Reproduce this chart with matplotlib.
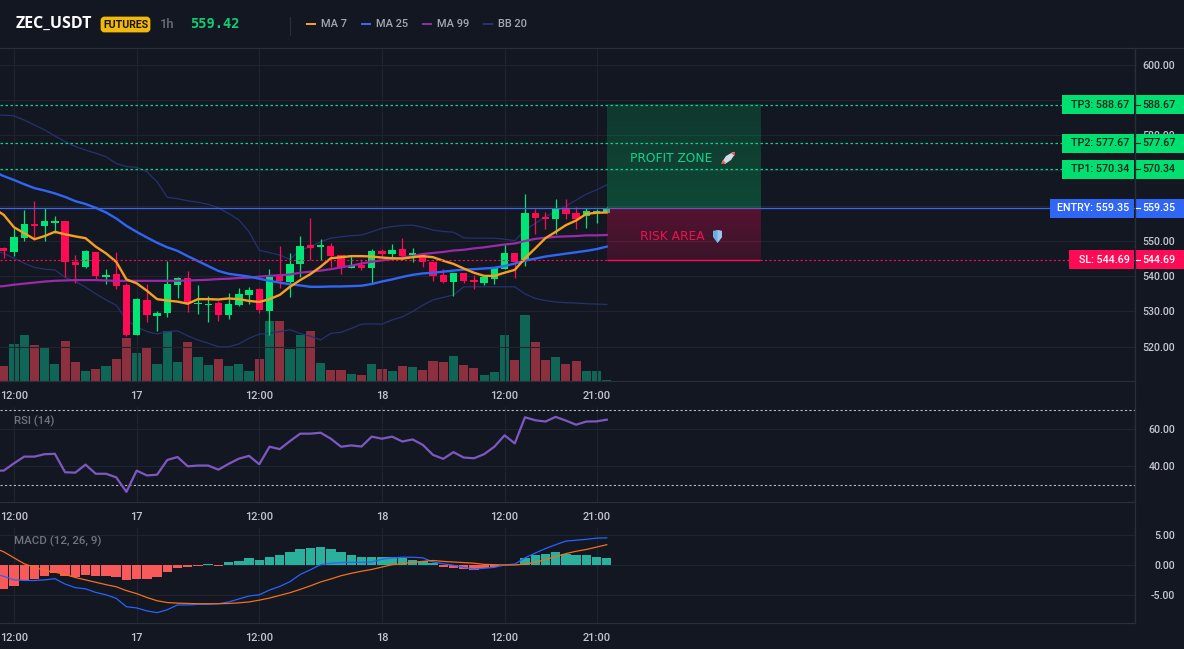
import numpy as np
import matplotlib
matplotlib.use("Agg")
import matplotlib.pyplot as plt
from matplotlib.patches import Rectangle, Polygon, FancyBboxPatch
from matplotlib.transforms import blended_transform_factory

# Hourly candles; hour 0 is 12:00 on the 16th.
hours = np.arange(-2, 59)
candle_open = [549.0,547.9,546.9,550.8,554.5,554.3,555.2,555.7,544.0,542.6,546.9,539.7,540.6,537.5,523.4,533.3,528.7,529.6,537.5,539.4,532.1,531.7,532.4,529.0,531.8,534.7,536.4,530.1,540.2,538.4,543.5,548.8,548.3,548.6,546.0,542.4,543.3,542.4,547.2,546.3,547.7,546.1,546.2,544.0,540.3,538.5,540.9,538.9,538.1,539.3,542.1,546.5,544.6,557.9,556.8,556.2,559.0,557.9,557.2,558.1,558.0]
candle_close = [548.2,547.3,551.2,554.8,554.3,555.7,555.8,543.9,543.2,547.2,540.1,540.4,537.2,523.3,533.5,529.0,529.6,537.8,539.4,532.5,532.5,532.1,529.0,532.1,535.0,536.1,530.5,539.9,538.7,543.5,548.6,547.9,548.9,545.7,542.2,542.9,542.3,547.2,546.3,547.4,545.6,546.6,544.0,540.2,538.4,540.9,538.7,538.5,539.9,542.3,546.6,543.9,557.9,556.5,556.1,559.1,557.7,556.2,558.4,558.4,559.4]
candle_high = [550.0,548.2,553.6,558.8,561.3,559.3,557.1,555.7,546.0,547.4,546.9,542.1,546.8,538.0,533.7,537.7,530.1,544.4,539.8,541.5,537.5,534.4,533.0,535.2,536.8,537.0,536.8,542.1,548.6,546.5,551.4,556.4,550.5,549.3,546.0,545.7,544.8,547.6,547.8,549.1,550.8,548.0,546.7,544.0,542.0,540.9,540.9,540.4,539.9,542.3,549.1,546.5,563.3,559.0,558.2,561.9,561.9,559.6,559.3,559.1,559.6]
candle_low = [547.5,545.1,545.6,550.1,550.3,550.1,552.2,539.9,538.2,542.4,539.2,537.9,536.5,523.1,523.3,527.0,524.5,528.3,533.7,529.9,529.2,527.0,527.4,528.0,531.6,532.1,529.6,523.3,536.6,534.2,539.9,544.6,544.6,542.5,540.7,542.2,541.9,538.0,545.4,545.4,544.6,543.9,542.6,538.7,538.2,534.5,538.2,536.5,537.5,537.9,542.1,539.5,543.0,552.1,553.4,552.0,556.3,553.4,553.7,555.2,557.8]
volume = [20,44,112,139,109,101,52,121,58,31,37,46,66,130,85,101,52,150,58,118,73,49,66,44,52,30,67,181,181,97,139,150,55,34,34,22,19,52,37,31,46,42,34,61,58,76,49,40,19,28,139,64,199,118,64,73,52,61,31,31,4]

ma7 = [559.3,557.4,553.9,552.2,550.5,551.4,552.6,551.9,551.3,550.8,548.4,546.5,544.1,539.1,538.0,535.9,533.5,533.1,532.8,532.2,533.5,533.5,533.4,533.7,533.5,533.0,532.7,533.5,534.7,537.0,538.9,540.6,542.7,545.1,545.4,545.7,545.7,545.6,545.3,545.1,545.0,545.4,545.7,545.4,544.4,543.5,542.2,541.0,540.1,540.1,541.0,541.8,545.1,547.9,550.8,552.6,554.5,555.8,557.7,558.0,558.1]
ma25 = [569.7,568.4,567.3,566.1,565.0,564.3,563.5,562.5,561.3,560.5,559.4,558.1,556.4,554.3,552.6,551.0,549.5,548.2,547.2,545.7,544.3,542.9,541.5,540.7,540.3,539.9,539.3,538.7,538.2,537.7,537.4,537.0,537.0,537.1,537.1,537.2,537.3,537.8,538.5,539.1,539.8,540.4,540.8,541.0,541.3,541.6,541.9,542.0,542.2,542.4,542.9,543.6,544.4,545.0,545.6,546.0,546.4,546.8,547.2,547.7,548.4]
ma99 = [537.0,537.2,537.6,537.9,538.2,538.5,538.7,538.8,538.9,538.9,538.9,538.8,538.7,538.7,538.7,538.7,538.7,538.7,538.7,538.8,538.9,539.0,539.2,539.3,539.5,539.6,539.9,540.1,540.3,540.5,541.0,541.3,541.6,542.0,542.5,543.0,543.6,544.1,544.5,544.9,545.3,545.7,546.3,546.6,546.9,547.3,547.5,547.9,548.2,548.6,549.0,549.3,550.0,550.6,550.9,551.2,551.3,551.4,551.6,551.6,551.7]
bb_upper = [585.7,585.7,585.5,584.3,582.9,581.5,579.8,578.2,576.8,575.8,574.9,573.9,572.0,571.1,570.9,569.7,566.8,562.4,562.0,561.4,561.0,560.4,559.4,557.8,556.0,552.6,547.4,546.7,546.0,544.8,547.4,548.4,549.8,550.8,551.2,551.5,551.7,552.6,553.6,554.1,554.4,554.5,553.9,553.1,552.7,552.5,550.9,550.8,550.8,550.8,550.5,550.1,553.1,555.0,556.9,558.3,559.9,561.6,563.3,564.5,565.9]
bb_lower = [547.4,546.5,545.1,543.7,542.5,542.0,541.8,539.7,538.5,536.9,535.0,533.3,531.8,527.6,525.7,524.3,523.6,524.3,524.5,523.1,521.9,521.0,520.0,520.0,520.8,522.4,523.6,523.8,524.3,524.8,523.8,523.0,521.9,523.8,524.1,525.2,526.4,526.5,526.4,527.6,528.5,530.0,531.8,533.3,534.0,534.7,537.0,537.0,537.0,537.0,537.0,537.0,535.0,533.7,533.1,532.7,532.5,532.4,532.2,532.1,532.0]

rsi = [37.7,37.7,41.6,45.2,45.2,46.5,46.7,36.8,36.6,40.9,36.0,36.0,34.1,26.3,37.7,35.1,35.5,43.4,45.0,40.0,40.4,40.4,38.2,41.3,44.1,45.6,41.1,50.5,49.2,53.5,57.5,57.5,58.0,54.8,50.5,51.2,50.6,55.9,54.8,55.9,53.3,54.4,51.5,46.1,44.0,47.6,44.7,44.3,46.5,50.5,56.6,52.3,66.3,64.7,64.0,66.5,64.5,62.3,64.0,64.1,65.0]

macd_line = [-1.5,-1.9,-2.5,-2.6,-2.6,-2.5,-2.3,-3.2,-3.8,-4.0,-4.6,-5.0,-5.6,-7.0,-7.2,-7.7,-8.0,-7.5,-6.7,-6.7,-6.6,-6.6,-6.5,-6.2,-5.7,-5.2,-5.0,-4.2,-3.6,-2.8,-1.6,-0.8,0.05,0.3,0.4,0.45,0.45,0.5,0.95,1.2,1.3,1.3,1.2,0.5,0.2,-0.05,-0.4,-0.7,-0.55,-0.4,0.0,0.15,1.2,2.0,2.75,3.4,4.0,4.15,4.3,4.5,4.55]
macd_signal = [2.9,2.2,1.2,0.2,-0.4,-0.9,-1.2,-1.6,-2.1,-2.5,-2.9,-3.3,-3.65,-4.3,-4.8,-5.45,-6.0,-6.3,-6.4,-6.45,-6.5,-6.5,-6.5,-6.45,-6.35,-6.2,-5.9,-5.55,-5.1,-4.65,-4.1,-3.5,-2.85,-2.35,-1.8,-1.4,-1.05,-0.75,-0.35,0.05,0.2,0.45,0.6,0.75,0.6,0.5,0.4,0.3,0.1,0.05,0.0,0.0,0.15,0.45,0.9,1.4,1.9,2.3,2.6,3.0,3.4]
macd_hist = [-4.2,-4.0,-3.5,-2.6,-2.3,-1.8,-1.35,-1.8,-2.0,-1.6,-1.8,-1.8,-2.0,-2.6,-2.3,-2.3,-2.1,-1.1,-0.45,-0.3,-0.1,0.1,-0.1,0.45,0.7,1.1,0.9,1.4,1.6,2.1,2.6,2.8,3.0,2.6,2.1,1.75,1.4,1.4,1.4,1.4,1.1,0.9,0.6,0.3,-0.4,-0.5,-0.7,-0.85,-0.5,-0.4,0.03,0.05,1.2,1.7,1.9,2.1,1.9,1.7,1.6,1.4,1.2]

tick_hours = [0, 12, 24, 36, 48, 57]
tick_labels = ["12:00", "17", "12:00", "18", "12:00", "21:00"]
price_ticks = [520, 530, 540, 550, 560, 570, 580, 590, 600]
tagged_prices = [560, 570, 590]  # these scale labels sit fully behind price tags
rsi_ticks = [40, 60]
macd_ticks = [-5, 0, 5]

entry = 559.35
stop = 544.69
targets = [("TP1", 570.34), ("TP2", 577.67), ("TP3", 588.67)]

BG = "#131722"
GRID = "#20242f"
EDGE = "#2a2e39"
GREEN = "#00e676"
RED = "#ff0a54"
BLUE = "#2f66f5"
VOL_GREEN = "#0f6656"
VOL_RED = "#8c2f3e"
AXIS_TEXT = "#c3c6ce"
FONT = "Roboto"
HEAD_FONT = "Open Sans"

W, H = 1184, 649
PX = 0.72  # points per pixel at 100 dpi
HOUR_PX = 10.22
X_LEFT = -14 / HOUR_PX
X_RIGHT = (1135 - 14) / HOUR_PX
ZONE_END = 73

plt.rcParams["font.family"] = [FONT, "DejaVu Sans"]
fig = plt.figure(figsize=(W / 100, H / 100), dpi=100, facecolor=BG)


def panel(top, bottom):
    ax = fig.add_axes([0, 1 - bottom / H, 1135 / W, (bottom - top) / H])
    ax.set_facecolor(BG)
    ax.set_xlim(X_LEFT, X_RIGHT)
    ax.set_xticks(tick_hours)
    ax.set_xticklabels(tick_labels)
    ax.grid(True, color=GRID, lw=0.8)
    ax.set_axisbelow(True)
    ax.tick_params(axis="x", length=0, pad=7.2, labelcolor=AXIS_TEXT, labelsize=11 * PX)
    for lab in ax.get_xticklabels():
        lab.set_fontweight("medium")
    for name in ("left", "top"):
        ax.spines[name].set_visible(False)
    for name in ("right", "bottom"):
        ax.spines[name].set_color(EDGE)
        ax.spines[name].set_linewidth(0.9)
    return ax


def set_yticks(ax, ticks, hidden=()):
    ax.set_yticks(ticks)
    ax.set_yticklabels(["" if t in hidden else f"{t:.2f}" for t in ticks])
    ax.yaxis.tick_right()
    ax.tick_params(axis="y", length=0, pad=40 * PX, labelcolor=AXIS_TEXT, labelsize=10.6 * PX)
    for tick in ax.yaxis.get_major_ticks():
        tick.label2.set_horizontalalignment("right")
        tick.label2.set_fontweight("medium")


# Price panel with volume underneath
ax = panel(48, 381)
ax.set_ylim(510.28, 604.75)

ax_vol = ax.twinx()
ax_vol.set_ylim(0, 999)
ax_vol.set_xlim(X_LEFT, X_RIGHT)
ax_vol.axis("off")
ax_vol.set_zorder(ax.get_zorder() - 1)
ax.set_zorder(ax.get_zorder() + 1)
ax.patch.set_visible(False)
ax_vol.patch.set_visible(True)
ax_vol.patch.set_facecolor(BG)
set_yticks(ax, price_ticks, hidden=tagged_prices)

is_up = np.array(candle_close) >= np.array(candle_open)
ax_vol.bar(hours, volume, width=0.9, color=[VOL_GREEN if u else VOL_RED for u in is_up], lw=0)

ax.plot(hours, bb_upper, color="#25326e", lw=0.9, zorder=3)
ax.plot(hours, bb_lower, color="#25326e", lw=0.9, zorder=3)

body_bottom = np.minimum(candle_open, candle_close)
body_height = np.abs(np.array(candle_close) - np.array(candle_open))
colors = [GREEN if u else RED for u in is_up]
ax.vlines(hours, candle_low, candle_high, colors=colors, lw=0.9, zorder=4)
ax.bar(hours, np.maximum(body_height, 0.4), bottom=body_bottom, width=0.72, color=colors, lw=0, zorder=4.2)

ax.plot(hours, ma99, color="#9c2aa8", lw=1.6, zorder=5)
ax.plot(hours, ma25, color=BLUE, lw=1.7, zorder=5.1)
ax.plot(hours, ma7, color="#f7a01e", lw=1.7, zorder=5.2)

# Entry, stop and target levels
ax.axhline(entry, color="#3a68ee", lw=0.9, zorder=5.5)
ax.axhline(stop, color=RED, lw=0.8, ls=(0, (2, 2)), zorder=5.5)
for _, level in targets:
    ax.axhline(level, color="#00d98a", lw=0.9, ls=(0, (2, 2)), zorder=5.5)

# Shaded trade zones, drawn as vertical colour ramps
def ramp(rgb, top_alpha, bottom_alpha, low, high):
    img = np.zeros((64, 1, 4))
    img[..., 0], img[..., 1], img[..., 2] = rgb
    img[..., 3] = np.linspace(top_alpha, bottom_alpha, 64)[:, None]
    ax.imshow(img, extent=[58, ZONE_END, low, high], aspect="auto", origin="upper",
              interpolation="bilinear", zorder=6)


ramp((0.0, 0.90, 0.46), 0.16, 0.24, entry, targets[2][1])
ramp((1.0, 0.04, 0.33), 0.28, 0.17, stop, entry)
ax.plot([58, ZONE_END], [stop, stop], color=RED, lw=1.0, zorder=6.2, solid_capstyle="butt")
ax.set_xlim(X_LEFT, X_RIGHT)
ax.set_ylim(510.28, 604.75)

# RSI panel
ax_rsi = panel(407, 502)
ax_rsi.set_ylim(20.86, 71.8)
set_yticks(ax_rsi, rsi_ticks)
for level in (70, 30):
    ax_rsi.axhline(level, color="#b4b8c0", lw=0.8, ls=(0, (2, 2)), zorder=2)
ax_rsi.plot(hours, rsi, color="#7e57c2", lw=1.6, zorder=3)

# MACD panel
ax_macd = panel(528, 623)
ax_macd.set_ylim(-9.73, 6.2)
set_yticks(ax_macd, macd_ticks)
ax_macd.bar(hours, macd_hist, width=0.92, lw=0, zorder=2,
            color=["#2bb09d" if v >= 0 else "#f85a5a" for v in macd_hist])
ax_macd.plot(hours, macd_line, color="#2962ff", lw=0.9, zorder=3)
ax_macd.plot(hours, macd_signal, color="#f2701d", lw=0.9, zorder=3.1)

# Overlay in pixel coordinates for the header and price tags
ov = fig.add_axes([0, 0, 1, 1], zorder=20)
ov.set_xlim(0, W)
ov.set_ylim(H, 0)
ov.axis("off")
ov.patch.set_visible(False)

ov.plot([0, W], [48, 48], color=EDGE, lw=0.9)
ov.plot([1135, 1135], [48, 623], color=EDGE, lw=0.9)
ov.text(14, 421, "RSI (14)", color="#70747f", fontsize=11.2 * PX, fontweight="medium", va="center")
ov.text(14, 541.5, "MACD (12, 26, 9)", color="#70747f", fontsize=11.5 * PX, fontweight="medium", va="center")

ov.text(16, 24, "ZEC_USDT", color="white", fontsize=16 * PX, fontweight="bold", family=HEAD_FONT, va="center")
ov.add_patch(FancyBboxPatch((102, 18), 47, 13, boxstyle="round,pad=0,rounding_size=2.5",
                            fc="#f0b90b", ec="#f0b90b", lw=2))
ov.text(125.5, 24.5, "FUTURES", color="#1a1500", fontsize=10.5 * PX, fontweight="bold", ha="center", va="center")
ov.text(160, 24, "1h", color="#6a6e78", fontsize=13 * PX, fontweight="medium", va="center")
ov.text(190, 24, "559.42", color="#0fce73", fontsize=13.8 * PX, fontweight="bold",
        family="DejaVu Sans Mono", va="center")
ov.plot([290, 290], [17, 35], color=EDGE, lw=0.9)

legend_items = [("MA 7", "#f7a01e", 306), ("MA 25", "#3f66ee", 361), ("MA 99", "#8e2fa0", 422), ("BB 20", "#25326e", 483)]
for name, col, x0 in legend_items:
    ov.add_patch(Rectangle((x0, 22.6), 10, 2.8, fc=col, lw=0))
    ov.text(x0 + 15, 24, name, color="#a3a7b0", fontsize=11 * PX, fontweight="medium", va="center")

# Price tags follow the price scale vertically, pixels horizontally
tag_tf = blended_transform_factory(ov.transData, ax.transData)
tag_h = 19 / (333 / (604.75 - 510.28))


def price_tag(text, level, left, fill, ink):
    y = level - tag_h / 2
    ov.add_patch(Rectangle((left, y), 1134 - left, tag_h, fc=fill, lw=0, transform=tag_tf, clip_on=False))
    ov.add_patch(Rectangle((1135.5, y), W - 1135.5, tag_h, fc=fill, lw=0, transform=tag_tf, clip_on=False))
    ov.text(1129.5, level, text, color=ink, fontsize=10.8 * PX, fontweight="medium", ha="right", va="center", transform=tag_tf)
    ov.text(1175.5, level, f"{level:.2f}", color=ink, fontsize=10.6 * PX, fontweight="medium", ha="right", va="center", transform=tag_tf)
    ov.plot([1135.5, 1139.5], [level, level], color=ink, lw=0.8, transform=tag_tf)


for name, level in targets:
    price_tag(f"{name}: {level:.2f}", level, 1062, "#00e070", "#10231c")
price_tag(f"ENTRY: {entry:.2f}", entry, 1050, "#2f66f5", "white")
price_tag(f"SL: {stop:.2f}", stop, 1069, "#ff0a54", "white")

# Zone captions with small hand-drawn rocket and shield icons
ov.text(630, 158, "PROFIT ZONE", color="#12d688", fontsize=12.3 * PX, family="DejaVu Sans", va="center")
ov.text(640, 236, "RISK AREA", color="#f01050", fontsize=12.3 * PX, family="DejaVu Sans", va="center")
ov.add_patch(Polygon([[722, 162], [726, 156], [733, 152], [735, 152], [735, 154], [731, 160], [725, 164]],
                     fc="#d8d8e4", lw=0))
ov.add_patch(Polygon([[731, 153], [735, 152], [735, 156]], fc="#e8455c", lw=0))
ov.add_patch(Polygon([[721, 164], [723, 160], [726, 163]], fc="#e8704a", lw=0))
ov.add_patch(Polygon([[713, 231], [717, 230], [722, 231], [722, 237], [717.5, 243], [713, 237]],
                     fc="#6aaee6", lw=0))
ov.add_patch(Polygon([[717.5, 230], [722, 231], [722, 237], [717.5, 243]], fc="#9cc4e8", lw=0))

fig.savefig("out.png", dpi=100, facecolor=BG)
